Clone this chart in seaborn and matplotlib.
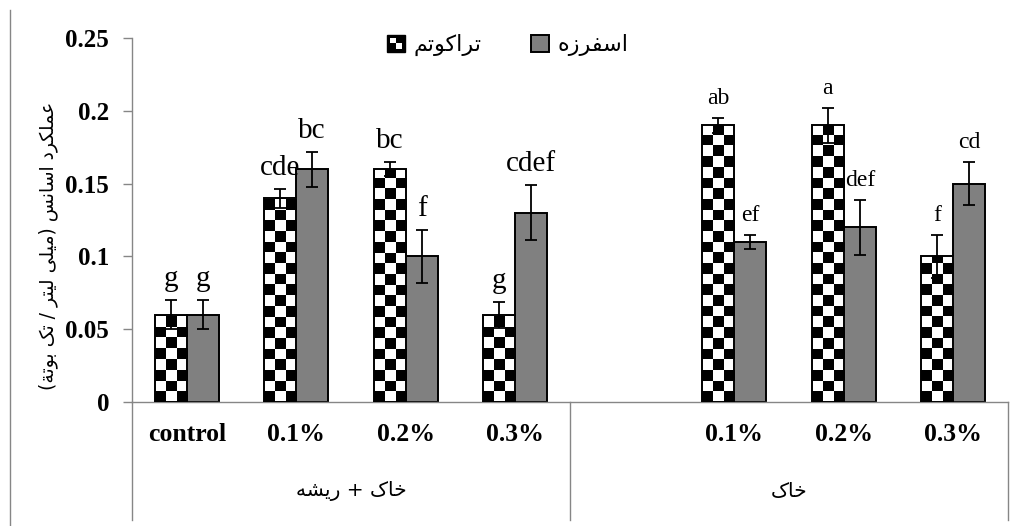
import numpy as np
import pandas as pd
import matplotlib
matplotlib.use('Agg')
import matplotlib.pyplot as plt
import matplotlib.transforms as mtransforms
from matplotlib.patches import Rectangle
from matplotlib.lines import Line2D
from matplotlib.legend_handler import HandlerBase
import seaborn as sns

# x axis categories (keys keep the two "0.1%" etc. apart)
cat_keys = ['ctrl', 'sr1', 'sr2', 'sr3', 'gap', 's1', 's2', 's3']
tick_labels = ['control', '0.1%', '0.2%', '0.3%', '', '0.1%', '0.2%', '0.3%']
group_labels = ['خاک + ریشه', 'خاک']
group_keys = [cat_keys[:4], cat_keys[4:]]

bar_keys = ['ctrl', 'sr1', 'sr2', 'sr3', 's1', 's2', 's3']
series_names = ['تراکوتم', 'اسفرزه']

trakotem = [0.06, 0.14, 0.16, 0.06, 0.19, 0.19, 0.10]
trakotem_err = [0.010, 0.0065, 0.005, 0.009, 0.005, 0.012, 0.015]
trakotem_letters = ['g', 'cde', 'bc', 'g', 'ab', 'a', 'f']

esfarzeh = [0.06, 0.16, 0.10, 0.13, 0.11, 0.12, 0.15]
esfarzeh_err = [0.010, 0.012, 0.018, 0.019, 0.005, 0.019, 0.015]
esfarzeh_letters = ['g', 'bc', 'f', 'cdef', 'ef', 'def', 'cd']

ylabel_text = 'عملکرد اسانس (میلی لیتر / تک بوتة)'

# matplotlib has no arabic shaping, so pick presentation forms by hand
FORMS = {
    'ا': ('\uFE8D', '\uFE8E', None, None),
    'ب': ('\uFE8F', '\uFE90', '\uFE91', '\uFE92'),
    'ة': ('\uFE93', '\uFE94', None, None),
    'ت': ('\uFE95', '\uFE96', '\uFE97', '\uFE98'),
    'خ': ('\uFEA5', '\uFEA6', '\uFEA7', '\uFEA8'),
    'د': ('\uFEA9', '\uFEAA', None, None),
    'ر': ('\uFEAD', '\uFEAE', None, None),
    'ز': ('\uFEAF', '\uFEB0', None, None),
    'س': ('\uFEB1', '\uFEB2', '\uFEB3', '\uFEB4'),
    'ش': ('\uFEB5', '\uFEB6', '\uFEB7', '\uFEB8'),
    'ع': ('\uFEC9', '\uFECA', '\uFECB', '\uFECC'),
    'ف': ('\uFED1', '\uFED2', '\uFED3', '\uFED4'),
    'ل': ('\uFEDD', '\uFEDE', '\uFEDF', '\uFEE0'),
    'م': ('\uFEE1', '\uFEE2', '\uFEE3', '\uFEE4'),
    'ن': ('\uFEE5', '\uFEE6', '\uFEE7', '\uFEE8'),
    'ه': ('\uFEE9', '\uFEEA', '\uFEEB', '\uFEEC'),
    'و': ('\uFEED', '\uFEEE', None, None),
    'ک': ('\uFB8E', '\uFB8F', '\uFB90', '\uFB91'),
    'ی': ('\uFBFC', '\uFBFD', '\uFBFE', '\uFBFF'),
}


def rtl(text):
    out = []
    for i, c in enumerate(text):
        if c not in FORMS:
            out.append(c)
            continue
        prev = text[i - 1] if i > 0 else None
        nxt = text[i + 1] if i + 1 < len(text) else None
        jp = prev in FORMS and FORMS[prev][2] is not None
        jn = nxt in FORMS and FORMS[c][2] is not None
        iso, fin, ini, med = FORMS[c]
        if jp and jn:
            out.append(med)
        elif jp:
            out.append(fin)
        elif jn:
            out.append(ini)
        else:
            out.append(iso)
    vis = ''.join(out)[::-1]
    return vis.translate(str.maketrans('()', ')('))


class CheckerHandler(HandlerBase):
    def create_artists(self, legend, orig_handle, xdescent, ydescent,
                       width, height, fontsize, trans):
        x0, y0 = -xdescent, -ydescent
        box = Rectangle((x0, y0), width, height, facecolor='black',
                        edgecolor='black', lw=1, transform=trans)
        a = Rectangle((x0 + width * 0.18, y0 + height * 0.5), width * 0.32,
                      height * 0.34, facecolor='white', edgecolor='none', transform=trans)
        b = Rectangle((x0 + width * 0.5, y0 + height * 0.16), width * 0.34,
                      height * 0.34, facecolor='white', edgecolor='none', transform=trans)
        return [box, a, b]


GRAY = '#868686'
AR = 'DejaVu Sans'
SERIF = 'Liberation Serif'

df = pd.DataFrame({
    'cat': bar_keys * 2,
    'series': [series_names[0]] * len(bar_keys) + [series_names[1]] * len(bar_keys),
    'value': trakotem + esfarzeh,
})
errs = [trakotem_err, esfarzeh_err]
letters = [trakotem_letters, esfarzeh_letters]

fig = plt.figure(figsize=(10.26, 5.26), dpi=100)
ax = fig.add_axes([132 / 1026, 124 / 526, 876 / 1026, 364 / 526])

sns.barplot(data=df, x='cat', y='value', hue='series', order=cat_keys,
            hue_order=series_names, palette=['white', '#808080'], saturation=1,
            width=0.585, edgecolor='black', linewidth=1.4, errorbar=None,
            legend=False, ax=ax)

ax.set_xlim(-0.5, len(cat_keys) - 0.5)
ax.set_ylim(0, 0.25)
yt = np.arange(0, 0.2501, 0.05)
ax.set_yticks(yt)
ax.set_yticklabels([f'{v:g}' for v in yt], fontsize=18, fontweight='bold', family=SERIF)
ax.set_xticks(range(len(cat_keys)))
ax.set_xticklabels(tick_labels, fontsize=18.5, fontweight='bold', family=SERIF)
ax.set_xlabel('')
ax.tick_params(axis='y', direction='out', length=6.5, width=1, color=GRAY, pad=10)
ax.tick_params(axis='x', length=0, pad=15)
for s in ['top', 'right']:
    ax.spines[s].set_visible(False)
for s in ['left', 'bottom']:
    ax.spines[s].set_color(GRAY)
    ax.spines[s].set_linewidth(1)

bar_conts = list(ax.containers)
for i, cont in enumerate(bar_conts):
    for bar in cont:
        if bar is None or np.isnan(bar.get_height()):
            continue
        cx = bar.get_x() + bar.get_width() / 2
        j = bar_keys.index(cat_keys[int(round(cx))])
        h = bar.get_height()
        if i == 0:
            # checkerboard fill, 3 squares across each bar
            bar.set_facecolor('none')
            bar.set_zorder(3)
            x0, y0, w = bar.get_x(), bar.get_y(), bar.get_width()
            p0 = ax.transData.transform((x0, y0))
            p1 = ax.transData.transform((x0 + w, y0 + h))
            sq = (p1[0] - p0[0]) / 3
            sq_y = sq * h / (p1[1] - p0[1])
            nr = int(np.ceil(h / sq_y))
            board = np.add.outer(np.arange(nr), np.arange(3)) % 2
            im = ax.imshow(board, cmap='gray', origin='lower', aspect='auto',
                           interpolation='nearest', zorder=2,
                           extent=(x0, x0 + w, y0, y0 + nr * sq_y))
            im.set_clip_path(bar)
        ax.errorbar(cx, h, yerr=errs[i][j], fmt='none', ecolor='black',
                    elinewidth=1.3, capsize=4.5, capthick=1.3, zorder=4)
        left_group = cat_keys.index(bar_keys[j]) < len(group_keys[0])
        ax.annotate(letters[i][j], (cx, h + errs[i][j]), xytext=(0, 10),
                    textcoords='offset points', ha='center', va='baseline',
                    fontsize=21 if left_group else 17, family=SERIF, zorder=5)

ax.set_xlim(-0.5, len(cat_keys) - 0.5)
ax.set_ylim(0, 0.25)

ax.set_ylabel(rtl(ylabel_text), family=AR, fontsize=13.5)
ax.yaxis.set_label_coords(-0.085, 0.43)

# multi level category axis below the plot
blend = mtransforms.blended_transform_factory(ax.transData, ax.transAxes)
edges = [-0.5, len(group_keys[0]) - 0.5, len(cat_keys) - 0.5]
for xv in edges:
    ax.plot([xv, xv], [0, -0.324], transform=blend, color=GRAY, lw=1, clip_on=False)
start = 0
for lab, keys in zip(group_labels, group_keys):
    center = start + (len(keys) - 1) / 2
    ax.text(center, -0.245, rtl(lab), transform=blend, ha='center', va='center',
            family=AR, fontsize=14.5)
    start += len(keys)

handles = [Rectangle((0, 0), 1, 1, facecolor='black'),
           Rectangle((0, 0), 1, 1, facecolor='#808080', edgecolor='black', lw=1.4)]
ax.legend(handles, [rtl(n) for n in series_names],
          handler_map={handles[0]: CheckerHandler()},
          loc='center', bbox_to_anchor=(0.495, 0.914), bbox_transform=fig.transFigure,
          ncol=2, frameon=False, prop={'family': AR, 'size': 16},
          handlelength=0.8, handleheight=0.8, handletextpad=0.4, columnspacing=2.2)

fig.add_artist(Line2D([10 / 1026, 10 / 1026], [0, 1 - 10 / 526], color=GRAY, lw=1))

fig.savefig('out.png', dpi=100)
